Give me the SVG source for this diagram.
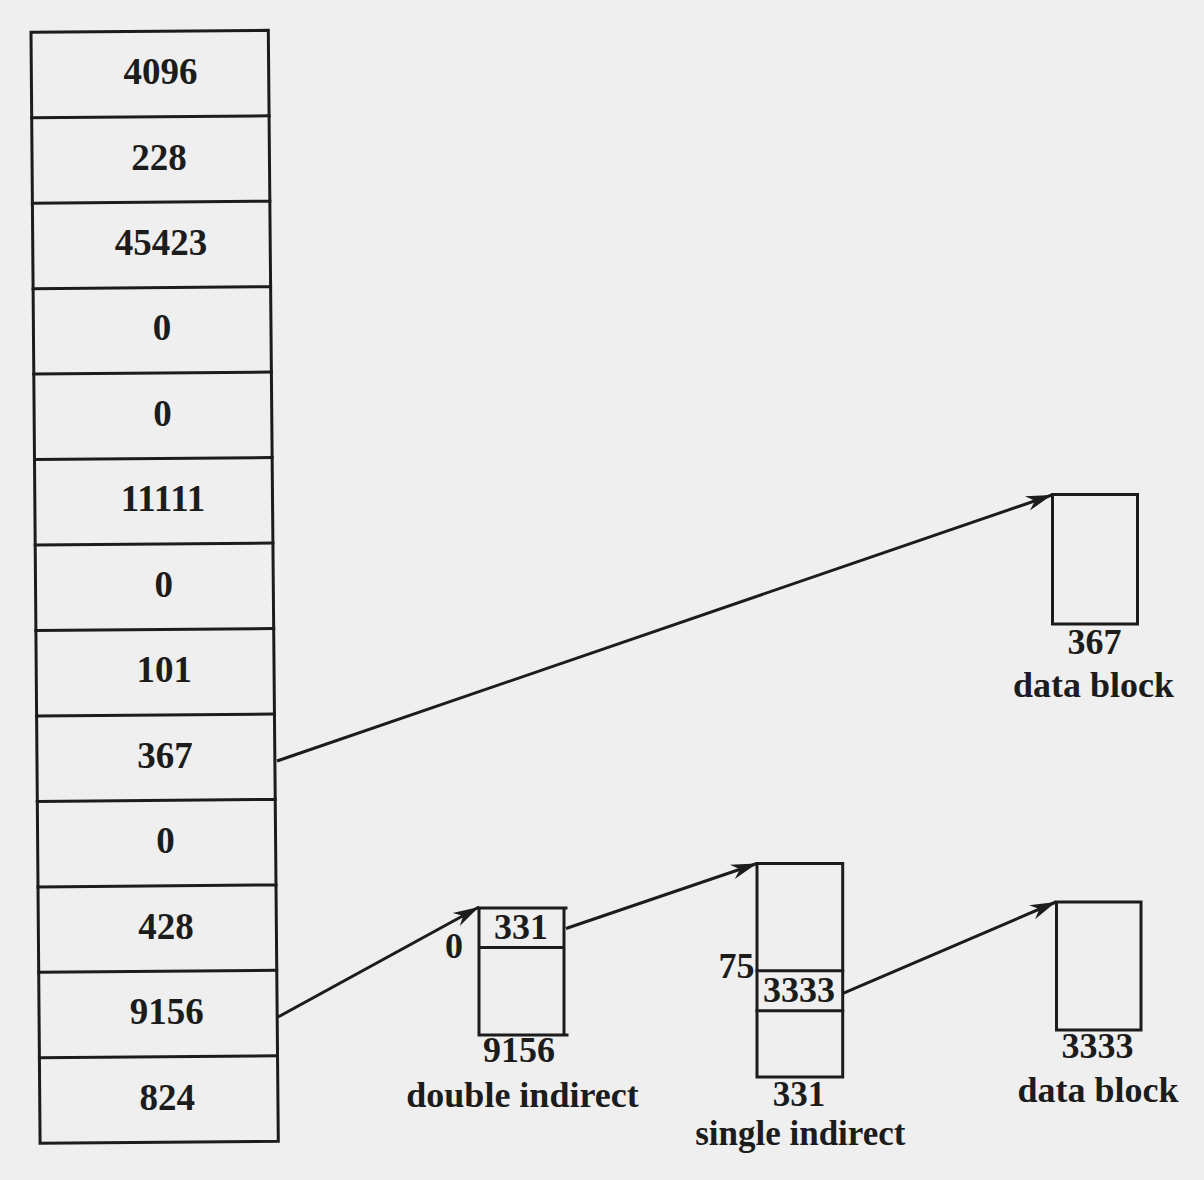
<svg xmlns="http://www.w3.org/2000/svg" width="1204" height="1180" viewBox="0 0 1204 1180">
<defs>
<style>
.bg{fill:#efefef}
.ln{stroke:#1c1c1c;stroke-width:3;fill:none;stroke-linecap:square}
.cn{stroke:#1c1c1c;stroke-width:3;fill:none}
.t{font-family:"Liberation Serif","Times New Roman",serif;font-size:37px;font-weight:bold;fill:#1c1c1c;text-anchor:middle}
.s{font-size:36px}
.sm{font-size:35px}
</style>
<marker id="ah" markerUnits="userSpaceOnUse" markerWidth="30" markerHeight="18" viewBox="-27 -9 29 18" refX="0" refY="0" orient="auto">
<path d="M0,0 L-26,-7.5 L-18,0 L-26,7.5 Z" fill="#1c1c1c"/>
</marker>
</defs>
<rect class="bg" x="0" y="0" width="1204" height="1180"/>
<g id="inode">
<path class="ln" d="M31,32.3 L268.3,30.3 L278.3,1141.3 L40.1,1143.3 Z"/>
<path class="ln" d="M31.7,117.8 L269.1,115.8 M32.4,203.2 L269.8,201.2 M33.1,288.7 L270.6,286.7 M33.8,374.1 L271.4,372.1 M34.5,459.6 L272.1,457.6 M35.2,545.1 L272.9,543.1 M35.9,630.5 L273.7,628.5 M36.6,716 L274.4,714 M37.3,801.4 L275.2,799.4 M38,886.9 L276,884.9 M38.7,972.3 L276.7,970.3 M39.4,1057.8 L277.5,1055.8"/>
<text class="t" x="160.5" y="84">4096</text>
<text class="t" x="159" y="169.5">228</text>
<text class="t" x="161" y="255">45423</text>
<text class="t" x="162" y="340.4">0</text>
<text class="t" x="162.5" y="425.8">0</text>
<text class="t" x="163" y="511.3">11111</text>
<text class="t" x="163.8" y="596.8">0</text>
<text class="t" x="164.3" y="682.2">101</text>
<text class="t" x="165" y="767.7">367</text>
<text class="t" x="165.5" y="853.1">0</text>
<text class="t" x="166" y="938.6">428</text>
<text class="t" x="166.7" y="1024">9156</text>
<text class="t" x="167.3" y="1109.5">824</text>
</g>
<g id="double-indirect">
<path class="ln" d="M479,908 L566,908 M564,908 L564,1035 M479,908 L479,1035 L567,1035 M479,947.5 L564,947.5"/>
<text class="t s" x="521" y="939">331</text>
<text class="t s" x="454" y="957.5">0</text>
<text class="t s" x="519" y="1061.7">9156</text>
<text class="t s" x="522.5" y="1106.7">double indirect</text>
</g>
<g id="single-indirect">
<rect class="ln" x="757" y="863.5" width="85.7" height="213.5"/>
<path class="ln" d="M757,970.7 L842.7,970.7 M757,1010.7 L842.7,1010.7"/>
<text class="t s" x="799" y="1001.7">3333</text>
<text class="t s" x="736.5" y="978">75</text>
<text class="t sm" x="799" y="1105.5">331</text>
<text class="t sm" x="800.3" y="1144.5">single indirect</text>
</g>
<g id="data-block-367">
<rect class="ln" x="1052.5" y="494.5" width="85" height="129.5"/>
<text class="t s" x="1094.5" y="654.3">367</text>
<text class="t s" x="1093.5" y="697">data block</text>
</g>
<g id="data-block-3333">
<rect class="ln" x="1056.5" y="902" width="84.5" height="128"/>
<text class="t s" x="1097.5" y="1058.3">3333</text>
<text class="t s" x="1098" y="1101.7">data block</text>
</g>
<g id="connectors">
<line class="cn" x1="277" y1="761" x2="1052" y2="495" marker-end="url(#ah)"/>
<line class="cn" x1="278" y1="1017" x2="479" y2="907" marker-end="url(#ah)"/>
<line class="cn" x1="566" y1="928.5" x2="757" y2="863.5" marker-end="url(#ah)"/>
<line class="cn" x1="843" y1="993.3" x2="1056" y2="902" marker-end="url(#ah)"/>
</g>
</svg>
